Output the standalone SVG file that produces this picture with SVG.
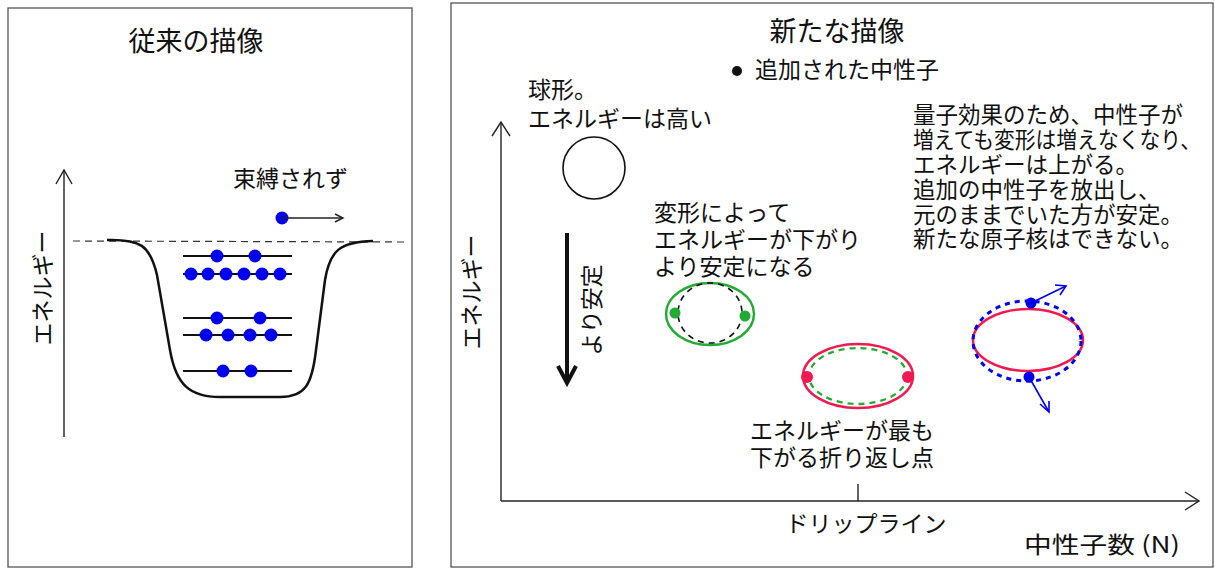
<svg xmlns="http://www.w3.org/2000/svg" width="1215" height="570" viewBox="0 0 1215 570">
<defs>
<style>
.t{font-family:"Noto Sans CJK JP","Noto Sans",sans-serif;fill:#111;font-size:23px}
.title{font-size:27px}
.frame{fill:#fff;stroke:#555;stroke-width:1.3}
.ax{stroke:#222;stroke-width:1.4;fill:none}
.lvl{stroke:#111;stroke-width:2}
.nb{fill:#0000ee}
.grn{stroke:#22aa33;stroke-width:2.5;fill:none}
.red{stroke:#ee1a50;stroke-width:2.5;fill:none}
.ex{font-size:22.5px}
</style>
</defs>
<rect width="1215" height="570" fill="#fff"/>

<g id="left-panel">
<rect class="frame" x="8" y="8" width="404" height="559"/>
<text class="t title" x="196" y="51" text-anchor="middle">従来の描像</text>
</g>

<g id="left-axis">
<line class="ax" x1="64" y1="437" x2="64" y2="170"/>
<polyline class="ax" points="56,184 64,170 72,184"/>
<text class="t" x="41" y="288" text-anchor="middle" dominant-baseline="central" font-size="25" transform="rotate(-90 41 288)">エネルギー</text>
</g>

<g id="well">
<line x1="73" y1="241" x2="405" y2="242" stroke="#333" stroke-width="1.2" stroke-dasharray="7 5"/>
<path d="M107,240 C140,239 150,245 157,275 L170,350 C176,385 190,397 220,397 L280,397 C305,397 312,385 316,350 L325,280 C330,250 340,242 373,241" fill="none" stroke="#111" stroke-width="2.5"/>
</g>

<g id="levels">
<line class="lvl" x1="183" y1="256" x2="292" y2="256"/>
<line class="lvl" x1="183" y1="274" x2="292" y2="274"/>
<line class="lvl" x1="183" y1="318" x2="292" y2="318"/>
<line class="lvl" x1="183" y1="335" x2="292" y2="335"/>
<line class="lvl" x1="183" y1="371" x2="292" y2="371"/>
<circle class="nb" cx="217" cy="256" r="6.5"/><circle class="nb" cx="255" cy="256" r="6.5"/>
<circle class="nb" cx="191" cy="274" r="6.5"/><circle class="nb" cx="208" cy="274" r="6.5"/><circle class="nb" cx="226" cy="274" r="6.5"/><circle class="nb" cx="244" cy="274" r="6.5"/><circle class="nb" cx="262" cy="274" r="6.5"/><circle class="nb" cx="280" cy="274" r="6.5"/>
<circle class="nb" cx="217" cy="318" r="6.5"/><circle class="nb" cx="260" cy="318" r="6.5"/>
<circle class="nb" cx="206" cy="335" r="6.5"/><circle class="nb" cx="228" cy="335" r="6.5"/><circle class="nb" cx="250" cy="335" r="6.5"/><circle class="nb" cx="271" cy="335" r="6.5"/>
<circle class="nb" cx="223" cy="371" r="6.5"/><circle class="nb" cx="251" cy="371" r="6.5"/>
</g>

<g id="unbound">
<text class="t" x="233" y="187" font-size="26">束縛されず</text>
<circle class="nb" cx="282" cy="218" r="6.5"/>
<line class="ax" x1="282" y1="218" x2="343" y2="218"/>
<polyline class="ax" points="335,214 343,218 335,222"/>
</g>

<g id="right-panel">
<rect class="frame" x="451" y="3" width="762" height="564"/>
<text class="t title" x="837" y="41" text-anchor="middle">新たな描像</text>
<circle cx="737" cy="71" r="5" fill="#111"/>
<text class="t" x="755" y="78">追加された中性子</text>
</g>

<g id="right-axes">
<line class="ax" x1="501" y1="501" x2="501" y2="122"/>
<polyline class="ax" points="492,136 501,122 510,136"/>
<line class="ax" x1="501" y1="501" x2="1199" y2="501"/>
<polyline class="ax" points="1185,492 1199,501 1185,510"/>
<line class="ax" x1="858" y1="484" x2="858" y2="501"/>
<text class="t" x="470" y="292" text-anchor="middle" dominant-baseline="central" font-size="25" transform="rotate(-90 470 292)">エネルギー</text>
<text class="t" x="866" y="532" text-anchor="middle" font-size="24.5">ドリップライン</text>
<text class="t" x="1024" y="553" font-size="26" textLength="156" lengthAdjust="spacingAndGlyphs">中性子数 (N)</text>
</g>

<g id="sphere">
<text class="t" x="528" y="98">球形。</text>
<text class="t" x="528" y="127">エネルギーは高い</text>
<circle cx="594" cy="168" r="31" fill="none" stroke="#111" stroke-width="1.6"/>
</g>

<g id="stable-arrow">
<line x1="567" y1="233" x2="567" y2="380" stroke="#111" stroke-width="4"/>
<polyline points="558,366 567,383 576,366" fill="none" stroke="#111" stroke-width="4"/>
<text class="t" x="590" y="310" text-anchor="middle" dominant-baseline="central" font-size="22" transform="rotate(-90 590 310)">より安定</text>
</g>

<g id="deformed">
<text class="t" x="654" y="221">変形によって</text>
<text class="t" x="654" y="248">エネルギーが下がり</text>
<text class="t" x="654" y="275">より安定になる</text>
<ellipse class="grn" cx="710" cy="314" rx="44" ry="31"/>
<ellipse cx="710" cy="313" rx="32" ry="30" fill="none" stroke="#111" stroke-width="1.6" stroke-dasharray="6 5"/>
<circle cx="675" cy="313" r="5.5" fill="#22aa33"/>
<circle cx="745" cy="316" r="5.5" fill="#22aa33"/>
</g>

<g id="turning-point">
<ellipse class="red" cx="858" cy="376" rx="55" ry="32"/>
<ellipse cx="858" cy="376" rx="49" ry="28" fill="none" stroke="#22aa33" stroke-width="2.3" stroke-dasharray="6 5"/>
<circle cx="807" cy="377" r="6" fill="#ee1a50"/>
<circle cx="908" cy="377" r="6" fill="#ee1a50"/>
<text class="t" x="750" y="439">エネルギーが最も</text>
<text class="t" x="750" y="466">下がる折り返し点</text>
</g>

<g id="emission">
<ellipse class="red" cx="1028" cy="340" rx="55" ry="31"/>
<ellipse cx="1027" cy="341" rx="54" ry="40" fill="none" stroke="#0000ee" stroke-width="3" stroke-dasharray="5 5"/>
<circle class="nb" cx="1031" cy="303" r="5.5"/>
<circle class="nb" cx="1029" cy="377" r="5.5"/>
<line x1="1031" y1="303" x2="1066" y2="286" stroke="#0000ee" stroke-width="1.6"/>
<polyline points="1055,285 1066,286 1060,295" fill="none" stroke="#0000ee" stroke-width="1.6"/>
<line x1="1029" y1="377" x2="1049" y2="412" stroke="#0000ee" stroke-width="1.6"/>
<polyline points="1040,404 1049,412 1049,401" fill="none" stroke="#0000ee" stroke-width="1.6"/>
</g>

<g id="explanation">
<text class="t ex" x="913" y="123">量子効果のため、中性子が</text>
<text class="t ex" x="913" y="148" textLength="288" lengthAdjust="spacingAndGlyphs">増えても変形は増えなくなり、</text>
<text class="t ex" x="913" y="173">エネルギーは上がる。</text>
<text class="t ex" x="913" y="198">追加の中性子を放出し、</text>
<text class="t ex" x="913" y="223">元のままでいた方が安定。</text>
<text class="t ex" x="913" y="247">新たな原子核はできない。</text>
</g>
</svg>
